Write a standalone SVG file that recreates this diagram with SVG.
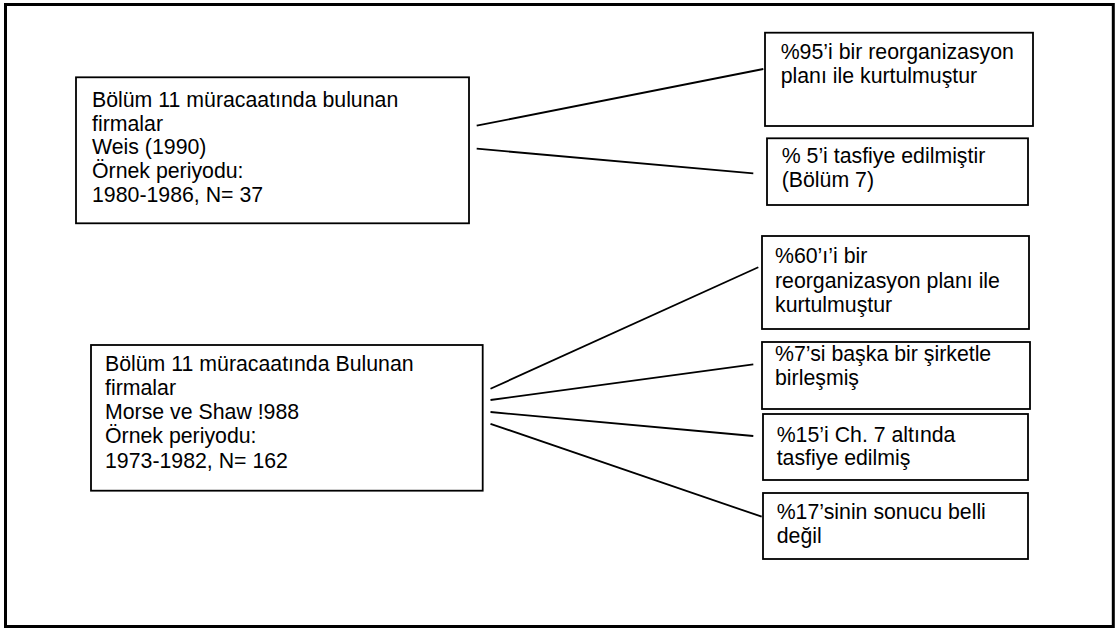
<svg xmlns="http://www.w3.org/2000/svg" width="1116" height="628" viewBox="0 0 1116 628">
<style>
.box{fill:#fff;stroke:#000;stroke-width:1.8}
.t{font-family:"Liberation Sans",Arial,sans-serif;font-size:21.3px;fill:#000}
.c{stroke:#000;stroke-width:1.8;fill:none}
</style>
<rect x="0" y="0" width="1116" height="628" fill="#fff"/>
<rect x="5.5" y="4.5" width="1107.8" height="622" fill="none" stroke="#000" stroke-width="3"/>
<g id="connectors">
<line class="c" x1="476.7" y1="125.7" x2="763.3" y2="69"/>
<line class="c" x1="476.7" y1="148.7" x2="753.3" y2="173.3"/>
<line class="c" x1="490.5" y1="388.8" x2="758.3" y2="267.3"/>
<line class="c" x1="490.5" y1="400" x2="753.3" y2="364.3"/>
<line class="c" x1="490.5" y1="412" x2="753.3" y2="436"/>
<line class="c" x1="490.5" y1="423.8" x2="761.7" y2="516.7"/>
</g>
<g id="weis">
<rect class="box" x="76" y="77.3" width="393" height="146"/>
<text class="t" x="92" y="106.7">Bölüm 11 müracaatında bulunan</text>
<text class="t" x="92" y="130.5">firmalar</text>
<text class="t" x="92" y="154.3">Weis (1990)</text>
<text class="t" x="92" y="178.1">Örnek periyodu:</text>
<text class="t" x="92" y="201.9">1980-1986, N= 37</text>
</g>
<g id="w95">
<rect class="box" x="765" y="32.7" width="268" height="93.3"/>
<text class="t" x="780.7" y="59.3">%95’i bir reorganizasyon</text>
<text class="t" x="780.7" y="83.3">planı ile kurtulmuştur</text>
</g>
<g id="w5">
<rect class="box" x="767" y="138.3" width="261" height="66.7"/>
<text class="t" x="781.7" y="162.7">% 5’i tasfiye edilmiştir</text>
<text class="t" x="781.7" y="186.7">(Bölüm 7)</text>
</g>
<g id="morse">
<rect class="box" x="91" y="345" width="391.7" height="145.7"/>
<text class="t" x="105" y="370.5">Bölüm 11 müracaatında Bulunan</text>
<text class="t" x="105" y="394.8">firmalar</text>
<text class="t" x="105" y="419.1">Morse ve Shaw !988</text>
<text class="t" x="105" y="443.4">Örnek periyodu:</text>
<text class="t" x="105" y="467.7">1973-1982, N= 162</text>
</g>
<g id="m60">
<rect class="box" x="762" y="236" width="267" height="93"/>
<text class="t" x="775" y="263">%60’ı’i bir</text>
<text class="t" x="775" y="287.5">reorganizasyon planı ile</text>
<text class="t" x="775" y="312">kurtulmuştur</text>
</g>
<g id="m7">
<rect class="box" x="762" y="342" width="268" height="67"/>
<text class="t" x="775" y="361">%7’si başka bir şirketle</text>
<text class="t" x="775" y="384.5">birleşmiş</text>
</g>
<g id="m15">
<rect class="box" x="763" y="414" width="265" height="66"/>
<text class="t" x="776.7" y="441.7">%15’i Ch. 7 altında</text>
<text class="t" x="776.7" y="465">tasfiye edilmiş</text>
</g>
<g id="m17">
<rect class="box" x="763" y="493" width="265" height="66"/>
<text class="t" x="776.7" y="519">%17’sinin sonucu belli</text>
<text class="t" x="776.7" y="543">değil</text>
</g>
</svg>
